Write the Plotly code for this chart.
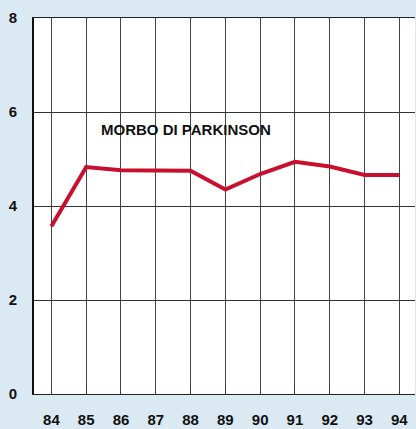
import plotly.graph_objects as go

years = [84, 85, 86, 87, 88, 89, 90, 91, 92, 93, 94]
values = [3.57, 4.83, 4.76, 4.76, 4.75, 4.35, 4.68, 4.94, 4.84, 4.66, 4.66]
y_ticks = [0, 2, 4, 6, 8]
label = "MORBO DI PARKINSON"

font = "Liberation Sans, Arial"
bg = "#dbeaf2"

fig = go.Figure()
fig.add_trace(
    go.Scatter(x=years, y=values, mode="lines",
               line={"color": "#c8102e", "width": 4}, hoverinfo="skip")
)
fig.add_annotation(
    x=85.38, y=5.62, text=f"<b>{label}</b>", showarrow=False,
    xanchor="left", yanchor="middle",
    font={"family": font, "size": 15, "color": "#111"},
)
fig.update_xaxes(
    range=[83.5, 94.45], tickvals=years, ticktext=[f"<b>{y}</b>" for y in years],
    showgrid=True, gridcolor="#444", gridwidth=1, zeroline=False,
    showline=True, linecolor="#222", linewidth=1, mirror=True,
    ticks="", automargin=False, ticklabelstandoff=12,
    tickfont={"family": font, "size": 15, "color": "#111"},
)
fig.update_yaxes(
    range=[0, 8], tickvals=y_ticks, ticktext=[f"<b>{v}</b>" for v in y_ticks],
    showgrid=True, gridcolor="#333", gridwidth=1,
    zeroline=False, showline=True, linecolor="#111", linewidth=2, ticks="",
    automargin=False, ticklabelstandoff=12,
    tickfont={"family": font, "size": 15, "color": "#111"},
)
fig.update_layout(
    width=416, height=429, showlegend=False,
    margin={"l": 34, "r": 1, "t": 18, "b": 35},
    paper_bgcolor=bg, plot_bgcolor="#ffffff",
)
fig.write_html(
    "out.html",
    config={"displayModeBar": False},
    post_script=f"document.body.style.margin='0';document.body.style.background='{bg}';",
)
